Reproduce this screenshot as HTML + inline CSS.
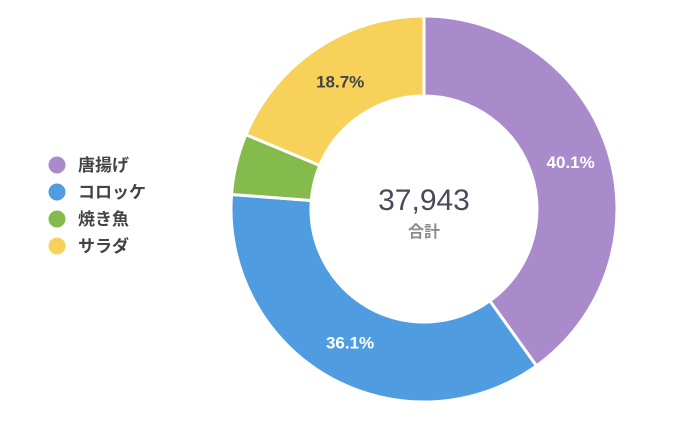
<!DOCTYPE html>
<html><head><meta charset="utf-8"><style>
body{margin:0;background:#fff;width:699px;height:436px;overflow:hidden}
text{font-family:"Liberation Sans","Noto Sans CJK JP",sans-serif}
</style></head><body>
<svg id="c" width="699" height="436"></svg>
<script>
const categories=["唐揚げ","コロッケ","焼き魚","サラダ"];
const values=[15215,13697,1935,7096];
const colors=["#a98acb","#4f9de0","#84bb4c","#f7d15a"];
const totalLabel="37,943";
const svg=document.getElementById('c');
const NS="http://www.w3.org/2000/svg";
const cx=424,cy=209,R=193,r=113;
const total=values.reduce((a,b)=>a+b,0);
function pt(a,rad){return [cx+rad*Math.sin(a),cy-rad*Math.cos(a)];}
let a0=0;
values.forEach((v,i)=>{
  const a1=a0+v/total*2*Math.PI;
  const large=(a1-a0)>Math.PI?1:0;
  const [x0,y0]=pt(a0,R),[x1,y1]=pt(a1,R),[x2,y2]=pt(a1,r),[x3,y3]=pt(a0,r);
  const p=document.createElementNS(NS,'path');
  p.setAttribute('d',`M${x0},${y0}A${R},${R} 0 ${large} 1 ${x1},${y1}L${x2},${y2}A${r},${r} 0 ${large} 0 ${x3},${y3}Z`);
  p.setAttribute('fill',colors[i]);p.setAttribute('stroke','#fff');p.setAttribute('stroke-width','3');
  
  
  svg.appendChild(p);
  const pct=v/total*100;
  if(pct>8){
    const [lx,ly]=pt((a0+a1)/2,(R+r)/2);
    const t=document.createElementNS(NS,'text');
    t.setAttribute('x',lx+1);t.setAttribute('y',ly+6);t.setAttribute('text-anchor','middle');
    t.setAttribute('font-size','17');t.setAttribute('font-weight','bold');
    t.setAttribute('fill',i==3?'#444':'#fff');
    t.textContent=pct.toFixed(1)+'%';
    
    
    svg.appendChild(t);
  }
  const c=document.createElementNS(NS,'circle');
  c.setAttribute('cx',57);c.setAttribute('cy',165+i*27);c.setAttribute('r',8.5);c.setAttribute('fill',colors[i]);
  
  
  svg.appendChild(c);
  const lt=document.createElementNS(NS,'text');
  lt.setAttribute('x',78);lt.setAttribute('y',171+i*27);lt.setAttribute('font-size','17');
  lt.setAttribute('font-weight','bold');lt.setAttribute('fill','#444');
  lt.textContent=categories[i];
  
  
  svg.appendChild(lt);
  a0=a1;
});
const tt=document.createElementNS(NS,'text');
tt.setAttribute('x',cx);tt.setAttribute('y',210);tt.setAttribute('text-anchor','middle');
tt.setAttribute('font-size','30');tt.setAttribute('fill','#4a4a5c');tt.textContent=totalLabel;


svg.appendChild(tt);
const tl=document.createElementNS(NS,'text');
tl.setAttribute('x',cx);tl.setAttribute('y',237);tl.setAttribute('text-anchor','middle');
tl.setAttribute('font-size','16');tl.setAttribute('font-weight','bold');tl.setAttribute('fill','#8a8a8a');tl.textContent='合計';


svg.appendChild(tl);
</script>
</body></html>
